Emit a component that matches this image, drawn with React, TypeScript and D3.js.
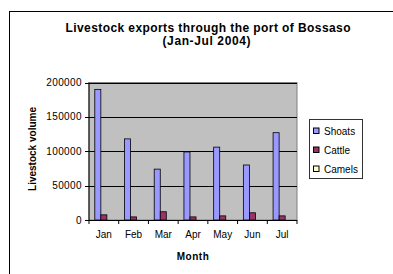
import React from "react";
import * as d3 from "d3";

const months = ["Jan", "Feb", "Mar", "Apr", "May", "Jun", "Jul"];
const seriesNames = ["Shoats", "Cattle", "Camels"];
const shoats = [190000, 118000, 74000, 99000, 106000, 80000, 127000];
const cattle = [7500, 4500, 12000, 4500, 6000, 10500, 6000];
const camels = [0, 0, 0, 0, 0, 0, 0];
const yTicks = [0, 50000, 100000, 150000, 200000];
const colors = ["#9999FF", "#993366", "#FFFFCC"];

export default function App() {
  const W = 393, H = 274;
  const left = 89, right = 297, top = 82.5, bottom = 220;
  const x = d3.scaleBand<string>().domain(months).range([left, right]).paddingInner(0.39).paddingOuter(0.195);
  const xs = d3.scaleBand<string>().domain(seriesNames).range([0, x.bandwidth()]);
  const y = d3.scaleLinear().domain([0, 200000]).range([bottom, top]);
  const data = [shoats, cattle, camels];
  const font = "Liberation Sans, Arial, sans-serif";
  const step = (right - left) / months.length;
  return (
    <svg width={W} height={H} style={{ position: "absolute", left: 0, top: 0 }} fontFamily={font}>
      <rect x={0} y={0} width={W} height={H} fill="#fff" />
      <rect x={9.5} y={11.5} width={400} height={300} fill="#fff" stroke="#000" strokeWidth={1} />
      <text x={208} y={31.5} textAnchor="middle" fontSize={12} fontWeight="bold" textLength={285} lengthAdjust="spacing">Livestock exports through the port of Bossaso</text>
      <text x={206.5} y={44.5} textAnchor="middle" fontSize={12} fontWeight="bold" textLength={88} lengthAdjust="spacing">(Jan-Jul 2004)</text>
      <rect x={left} y={top} width={right - left} height={bottom - top} fill="#C0C0C0" stroke="#808080" strokeWidth={1} />
      {yTicks.filter(t => t > 0).map(t => (
        <line key={t} x1={left} x2={right} y1={Math.round(y(t)) + 0.5} y2={Math.round(y(t)) + 0.5} stroke="#000" strokeWidth={1} />
      ))}
      {data.map((vals, si) => months.map((m, i) => {
        const v = vals[i];
        if (v <= 0) return null;
        const bx = (x(m) as number) + (xs(seriesNames[si]) as number);
        return (
          <rect key={si + m} x={bx} y={y(v)} width={xs.bandwidth()} height={bottom - y(v)} fill={colors[si]} stroke="#000" strokeWidth={0.8} />
        );
      }))}
      <line x1={left} x2={left} y1={top} y2={bottom} stroke="#000" />
      <line x1={left - 4} x2={right} y1={bottom + 0.5} y2={bottom + 0.5} stroke="#000" />
      {yTicks.map(t => (
        <g key={t}>
          <line x1={left - 4} x2={left} y1={Math.round(y(t)) + 0.5} y2={Math.round(y(t)) + 0.5} stroke="#000" />
          <text x={82} y={y(t) + 3.5} textAnchor="end" fontSize={10} letterSpacing={0.4}>{t}</text>
        </g>
      ))}
      {d3.range(months.length + 1).map(i => (
        <line key={i} x1={left + i * step} x2={left + i * step} y1={bottom} y2={bottom + 4} stroke="#000" />
      ))}
      {months.map(m => (
        <text key={m} x={(x(m) as number) + x.bandwidth() / 2} y={238} textAnchor="middle" fontSize={10}>{m}</text>
      ))}
      <text x={193} y={260} textAnchor="middle" fontSize={10} fontWeight="bold" letterSpacing={0.5}>Month</text>
      <text transform={`translate(36,149) rotate(-90)`} textAnchor="middle" fontSize={10} fontWeight="bold">Livestock volume</text>
      <rect x={309.5} y={119.5} width={53} height={59} fill="#fff" stroke="#333" strokeWidth={1} />
      {seriesNames.map((s, i) => (
        <g key={s}>
          <rect x={313.5} y={128 + i * 19} width={5.5} height={5.5} fill={colors[i]} stroke="#000" strokeWidth={1} />
          <text x={324} y={134.5 + i * 19} fontSize={10}>{s}</text>
        </g>
      ))}
    </svg>
  );
}
